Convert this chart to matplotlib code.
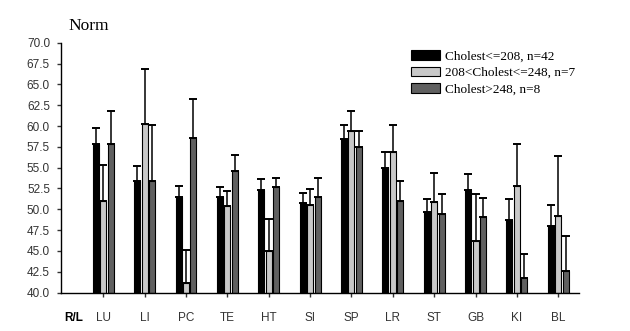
import numpy as np
import matplotlib
matplotlib.use("Agg")
import matplotlib.pyplot as plt

categories = ["LU", "LI", "PC", "TE", "HT", "SI", "SP", "LR", "ST", "GB", "KI", "BL"]
series_labels = ["Cholest<=208, n=42", "208<Cholest<=248, n=7", "Cholest>248, n=8"]

low_mean = [57.8, 53.4, 51.5, 51.5, 52.3, 50.8, 58.4, 55.0, 49.7, 52.3, 48.7, 48.0]
low_top = [59.7, 55.2, 52.8, 52.7, 53.6, 52.0, 60.1, 56.9, 51.2, 54.2, 51.2, 50.5]
mid_mean = [51.0, 60.3, 41.1, 50.4, 45.0, 50.5, 59.4, 56.9, 50.9, 46.2, 52.8, 49.2]
mid_top = [55.3, 66.8, 45.1, 52.2, 48.8, 52.4, 61.8, 60.1, 54.3, 51.8, 57.8, 56.4]
high_mean = [57.8, 53.4, 58.6, 54.6, 52.7, 51.5, 57.5, 51.0, 49.4, 49.1, 41.8, 42.6]
high_top = [61.8, 60.1, 63.2, 56.5, 53.8, 53.8, 59.4, 53.4, 51.8, 51.3, 44.6, 46.8]

yticks = np.arange(40.0, 70.01, 2.5)
colors = ["#000000", "#c8c8c8", "#606060"]

fig = plt.figure(figsize=(6.3, 3.31), dpi=100)
ax = fig.add_axes([0.097, 0.116, 0.822, 0.755])

x = np.arange(len(categories))
width = 0.145
offsets = [-0.18, 0.0, 0.18]
means = [low_mean, mid_mean, high_mean]
tops = [low_top, mid_top, high_top]
base = 40.0

for m, t, off, c, lab in zip(means, tops, offsets, colors, series_labels):
    m = np.array(m)
    err = np.array(t) - m
    ax.bar(x + off, m - base, width, bottom=base, color=c, edgecolor="black",
           linewidth=0.8, label=lab, zorder=2)
    ax.errorbar(x + off, m, yerr=[np.zeros_like(err), err], fmt="none",
                ecolor="black", elinewidth=1.1, capsize=3.2, capthick=1.4, zorder=1)

ax.set_xlim(-1.02, 11.5)
ax.set_ylim(40, 70)
ax.set_yticks(yticks)
ax.set_yticklabels([f"{v:.1f}" for v in yticks], fontsize=8.5, family="Liberation Sans")
ax.set_xticks(x)
ax.set_xticklabels(categories, fontsize=8.5, family="Liberation Sans")
ax.tick_params(axis="y", length=3, width=1, pad=5, colors="#333333")
ax.tick_params(axis="x", length=3, width=1, pad=11, colors="#333333")
ax.spines["top"].set_visible(False)
ax.spines["right"].set_visible(False)
for s in ["left", "bottom"]:
    ax.spines[s].set_linewidth(1.0)

ax.text(-0.71, -0.1, "R/L", transform=ax.get_xaxis_transform(), fontsize=8.5,
        fontweight="bold", family="Liberation Sans", ha="center", va="center")
fig.text(0.108, 0.922, "Norm", fontsize=12.5, family="Liberation Serif",
         ha="left", va="center")

fig.legend(loc="upper left", bbox_to_anchor=(0.652, 0.848), frameon=False,
           prop={"family": "Liberation Serif", "size": 9.5},
           handlelength=2.2, handleheight=0.75, handletextpad=0.4,
           labelspacing=0.3, borderaxespad=0, borderpad=0)

fig.savefig("out.png", dpi=100)
